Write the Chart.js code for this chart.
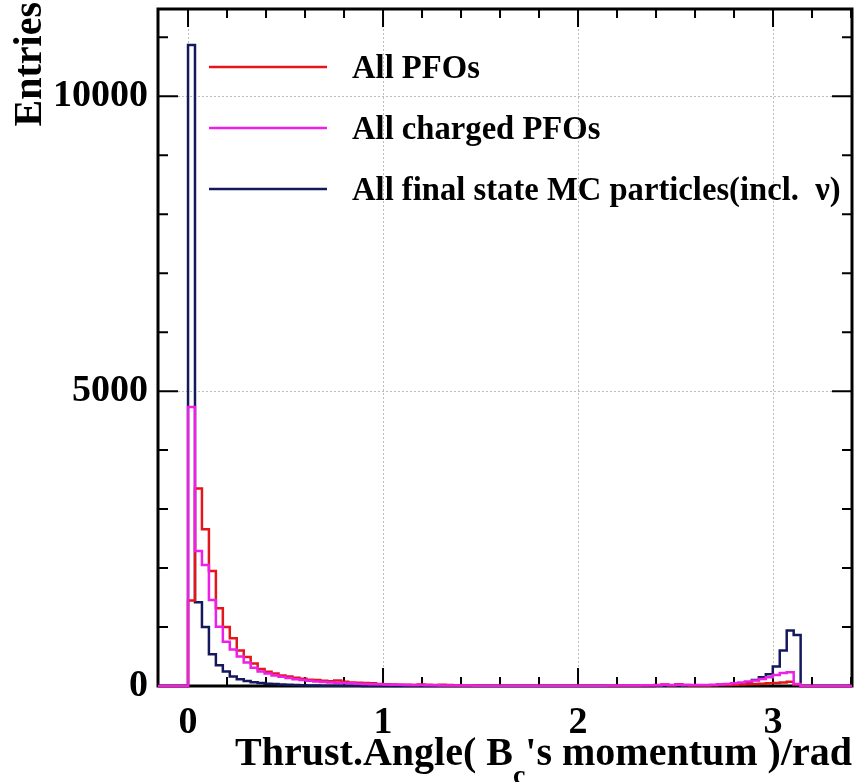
<!DOCTYPE html>
<html>
<head>
<meta charset="utf-8">
<script src="https://cdn.jsdelivr.net/npm/chart.js@4.4.1/dist/chart.umd.min.js"></script>
<style>
  html, body { margin: 0; padding: 0; background: #fff; }
  canvas { display: block; }
</style>
</head>
<body>
<canvas id="grafico" width="856" height="782"></canvas>
<script>
// histogram binning: 88 bins between 0 and pi
const binLow = 0;
const binHigh = Math.PI;
const nBins = 88;

const seriesLabels = ["All PFOs", "All charged PFOs", "All final state MC particles(incl.  \u03bd)"];
const seriesColors = ["#e3161c", "#ee1fe6", "#16185e"];

// All PFOs
const allPFOs = [
  1450, 3350, 2660, 1950, 1320, 1000, 810, 600, 490, 380,
  290, 240, 210, 180, 160, 140, 125, 108, 100, 88,
  82, 95, 70, 60, 55, 50, 45, 35, 30, 25,
  22, 20, 15, 25, 20, 15, 22, 15, 12, 10,
  8, 8, 6, 6, 5, 5, 5, 4, 4, 4,
  4, 3, 3, 3, 3, 4, 4, 5, 5, 5,
  6, 6, 7, 8, 8, 10, 12, 15, 25, 12,
  30, 15, 10, 10, 10, 12, 15, 15, 20, 25,
  30, 35, 40, 45, 50, 60, 70, 25
];

// All charged PFOs
const chargedPFOs = [
  4730, 2290, 2050, 1460, 1005, 750, 620, 500, 400, 310,
  245, 210, 180, 155, 135, 115, 100, 88, 78, 68,
  60, 55, 50, 45, 40, 35, 30, 28, 25, 22,
  20, 18, 15, 15, 12, 12, 10, 10, 10, 8,
  7, 6, 6, 5, 5, 5, 4, 4, 4, 4,
  4, 4, 4, 4, 5, 5, 5, 6, 6, 6,
  7, 7, 8, 9, 10, 11, 12, 14, 20, 16,
  20, 18, 15, 15, 18, 22, 28, 35, 45, 60,
  75, 95, 120, 150, 185, 220, 232, 35
];

// All final state MC particles
const mcParticles = [
  10870, 1420, 1000, 540, 350, 245, 160, 115, 85, 65,
  50, 40, 32, 25, 20, 15, 12, 10, 8, 6,
  5, 4, 4, 3, 3, 2, 2, 2, 1, 1,
  1, 1, 1, 1, 1, 1, 1, 1, 1, 1,
  1, 1, 1, 1, 1, 1, 1, 1, 1, 1,
  1, 1, 1, 1, 1, 1, 1, 1, 1, 1,
  1, 1, 1, 1, 2, 2, 2, 3, 3, 4,
  4, 5, 6, 8, 10, 12, 15, 20, 30, 40,
  60, 100, 150, 200, 330, 600, 940, 865
];

const xTickValues = [0, 1, 2, 3];
const xTickLabels = ["0", "1", "2", "3"];
const yTickValues = [0, 5000, 10000];
const yTickLabels = ["0", "5000", "10000"];

const xMin = -0.154, xMax = 3.405;
const yMin = 0, yMax = 11480;

const serif = '"Liberation Serif", "Times New Roman", serif';

// histogram -> step points (left edge of each bin holds the bin value)
function histPoints(vals) {
  const w = (binHigh - binLow) / nBins;
  const pts = [{ x: xMin, y: 0 }];
  vals.forEach((v, i) => pts.push({ x: binLow + i * w, y: v }));
  pts.push({ x: binHigh, y: 0 });
  pts.push({ x: xMax, y: 0 });
  return pts;
}

// frame with inward ticks on all four sides
const frameTicks = {
  id: "frameTicks",
  beforeDatasetsDraw(chart) {
    const { ctx, chartArea: a, scales: { x, y } } = chart;
    ctx.save();
    ctx.strokeStyle = "#000";
    ctx.lineWidth = 2;
    ctx.beginPath();
    for (let k = 0; k <= 17; k++) {
      const px = x.getPixelForValue(k * 0.2);
      const len = k % 5 === 0 ? 18 : 9;
      ctx.moveTo(px, a.bottom); ctx.lineTo(px, a.bottom - len);
      ctx.moveTo(px, a.top); ctx.lineTo(px, a.top + len);
    }
    for (let k = 0; k <= 11; k++) {
      const py = y.getPixelForValue(k * 1000);
      const len = k % 5 === 0 ? 20 : 10;
      ctx.moveTo(a.left, py); ctx.lineTo(a.left + len, py);
      ctx.moveTo(a.right, py); ctx.lineTo(a.right - len, py);
    }
    ctx.stroke();
    ctx.lineWidth = 3;
    ctx.strokeRect(a.left, a.top, a.width, a.height);
    ctx.restore();
  }
};

// legend + axis titles
const textLayer = {
  id: "textLayer",
  afterDraw(chart) {
    const { ctx, chartArea: a } = chart;
    ctx.save();
    // legend
    const rows = [67, 128, 189];
    ctx.font = "bold 34px " + serif;
    ctx.textBaseline = "middle";
    ctx.textAlign = "left";
    chart.data.datasets.slice().sort((p, q) => p.legendRank - q.legendRank).forEach((ds, i) => {
      ctx.strokeStyle = ds.borderColor;
      ctx.lineWidth = 2.5;
      ctx.beginPath();
      ctx.moveTo(209, rows[i]);
      ctx.lineTo(327, rows[i]);
      ctx.stroke();
      ctx.save();
      ctx.translate(352, rows[i] + 2);
      ctx.scale(0.96, 1);
      ctx.fillStyle = "#000";
      ctx.fillText(ds.label, 0, 0);
      ctx.restore();
    });

    // x title with subscript
    const big = "bold 40px " + serif, small = "bold 28px " + serif;
    const p1 = "Thrust.Angle( B", p2 = "c", p3 = "'s momentum )/rad";
    ctx.textBaseline = "alphabetic";
    ctx.font = big;
    const w1 = ctx.measureText(p1).width, w3 = ctx.measureText(p3).width;
    ctx.font = small;
    const w2 = ctx.measureText(p2).width;
    const x0 = a.right - (w1 + w2 + w3);
    ctx.fillStyle = "#000";
    ctx.font = big; ctx.fillText(p1, x0, 765);
    ctx.font = small; ctx.fillText(p2, x0 + w1, 784);
    ctx.font = big; ctx.fillText(p3, x0 + w1 + w2, 765);

    // y title
    ctx.translate(31, 2);
    ctx.rotate(-Math.PI / 2);
    ctx.font = "bold 40px " + serif;
    ctx.textAlign = "right";
    ctx.textBaseline = "middle";
    ctx.fillText("Entries", 0, 0);
    ctx.restore();
  }
};

const series = [allPFOs, chargedPFOs, mcParticles];
const drawOrder = [1, 0, 2];

new Chart(document.getElementById("grafico"), {
  type: "line",
  data: {
    datasets: series.map((vals, i) => ({
      label: seriesLabels[i],
      data: histPoints(vals),
      borderColor: seriesColors[i],
      borderWidth: 2.5,
      stepped: true,
      pointRadius: 0,
      fill: false,
      borderJoinStyle: "miter",
      clip: 4,
      order: drawOrder[i],
      legendRank: i
    }))
  },
  options: {
    responsive: false,
    animation: false,
    layout: { padding: { left: 0, right: 4, top: 9, bottom: 0 } },
    scales: {
      x: {
        type: "linear",
        min: xMin,
        max: xMax,
        afterBuildTicks: s => { s.ticks = xTickValues.map(v => ({ value: v })); },
        afterFit: s => { s.height = 96; s.paddingLeft = 0; s.paddingRight = 0; },
        ticks: {
          padding: 14,
          color: "#000",
          font: { family: serif, size: 38, weight: "bold" },
          callback: v => xTickLabels[xTickValues.indexOf(v)] ?? ""
        },
        grid: { drawTicks: false, color: "#bdbdbd", lineWidth: 1 },
        border: { display: false, dash: [2, 2] }
      },
      y: {
        min: yMin,
        max: yMax,
        afterBuildTicks: s => { s.ticks = yTickValues.map(v => ({ value: v })); },
        afterFit: s => { s.width = 158; s.paddingTop = 0; s.paddingBottom = 0; },
        ticks: {
          padding: 10,
          color: "#000",
          font: { family: serif, size: 38, weight: "bold" },
          callback: v => yTickLabels[yTickValues.indexOf(v)] ?? ""
        },
        grid: { drawTicks: false, color: "#bdbdbd", lineWidth: 1 },
        border: { display: false, dash: [2, 2] }
      }
    },
    plugins: {
      legend: { display: false },
      tooltip: { enabled: false }
    }
  },
  plugins: [frameTicks, textLayer]
});
</script>
</body>
</html>
